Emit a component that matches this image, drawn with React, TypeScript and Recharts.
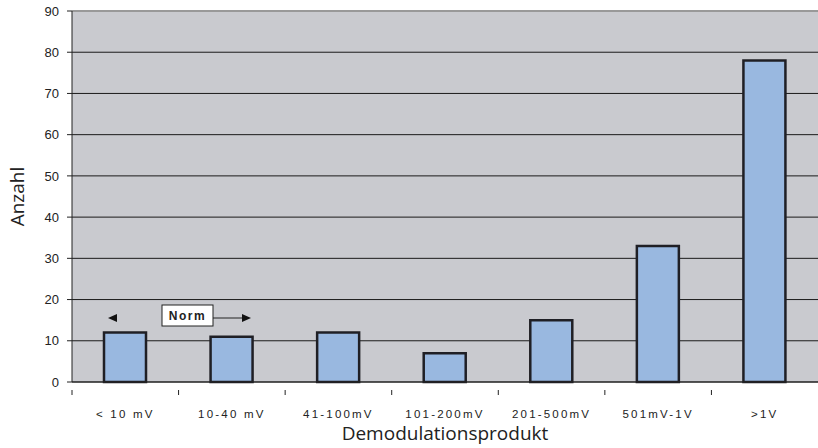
import { Bar, BarChart, CartesianGrid, Label, ReferenceLine, XAxis, YAxis } from 'recharts'

const CATEGORIES = ['< 10 mV', '10-40  mV', '41-100mV', '101-200mV', '201-500mV', '501mV-1V', '>1V']
const COUNTS = [12, 11, 12, 7, 15, 33, 78]
const Y_TICKS = [0, 10, 20, 30, 40, 50, 60, 70, 80, 90]

const data = CATEGORIES.map((name, i) => ({ name, count: COUNTS[i] }))

const W = 818
const H = 448
const Y_AXIS_W = 72
const BAND = (W - Y_AXIS_W) / CATEGORIES.length

const TICK_FONT = 'Arial, "Liberation Sans", sans-serif'
const TITLE_FONT = '"Open Sans", "Noto Sans", sans-serif'

function XTick(props: any) {
  const { x, y, payload } = props
  return (
    <g>
      <line x1={x - BAND / 2} x2={x - BAND / 2} y1={y} y2={y + 5} stroke="#222" />
      <text
        x={x}
        y={y + 28}
        textAnchor="middle"
        fontSize={11.5}
        fontFamily={TICK_FONT}
        letterSpacing={2.2}
        fill="#222"
      >
        {payload.value}
      </text>
    </g>
  )
}

function YTitle(props: any) {
  const vb = props.viewBox
  const cx = vb.x + 17
  const cy = vb.y + vb.height / 2
  return (
    <text
      x={cx}
      y={cy}
      transform={`rotate(-90 ${cx} ${cy})`}
      textAnchor="middle"
      dominantBaseline="central"
      fontSize={19}
      fontFamily={TITLE_FONT}
      fill="#222"
    >
      Anzahl
    </text>
  )
}

function XTitle(props: any) {
  const vb = props.viewBox
  return (
    <text
      x={vb.x + vb.width / 2}
      y={440}
      textAnchor="middle"
      fontSize={19}
      fontFamily={TITLE_FONT}
      fill="#222"
    >
      Demodulationsprodukt
    </text>
  )
}

function NormNote() {
  return (
    <svg width={W} height={H} style={{ position: 'absolute', left: 0, top: 0, pointerEvents: 'none' }}>
      <polygon points="108,318 117,314 117,322" fill="#111" />
      <rect x={162} y={305} width={51} height={21} fill="#fff" stroke="#222" strokeWidth={1} />
      <text
        x={187.5}
        y={320}
        textAnchor="middle"
        fontSize={12}
        fontWeight="bold"
        fontFamily={TICK_FONT}
        letterSpacing={1.5}
        fill="#222"
      >
        Norm
      </text>
      <line x1={213} x2={243} y1={318} y2={318} stroke="#222" strokeWidth={1} />
      <polygon points="251,318 242,314 242,322" fill="#111" />
    </svg>
  )
}

export default function App() {
  return (
    <div style={{ position: 'absolute', left: 0, top: 0, width: W, height: H, background: '#fff' }}>
      <BarChart width={W} height={H} data={data} margin={{ top: 11, right: 0, bottom: 0, left: 0 }}>
        <CartesianGrid vertical={false} fill="#c9cacf" stroke="#1a1a1a" strokeOpacity={1} />
        <ReferenceLine y={90} stroke="#999" strokeWidth={2} />
        <XAxis
          dataKey="name"
          height={66}
          tickLine={false}
          axisLine={{ stroke: '#222' }}
          tick={<XTick />}
          interval={0}
        >
          <Label content={<XTitle />} />
        </XAxis>
        <YAxis
          width={Y_AXIS_W}
          domain={[0, 90]}
          ticks={Y_TICKS}
          interval={0}
          tickSize={5}
          tickMargin={8}
          tickLine={{ stroke: '#222' }}
          axisLine={{ stroke: '#222' }}
          tick={{ fontSize: 13, fontFamily: TICK_FONT, fill: '#222' }}
        >
          <Label content={<YTitle />} />
        </YAxis>
        <Bar
          dataKey="count"
          barSize={42}
          fill="#99b8e0"
          stroke="#1f1f25"
          strokeWidth={2.5}
          isAnimationActive={false}
        />
      </BarChart>
      <NormNote />
    </div>
  )
}
